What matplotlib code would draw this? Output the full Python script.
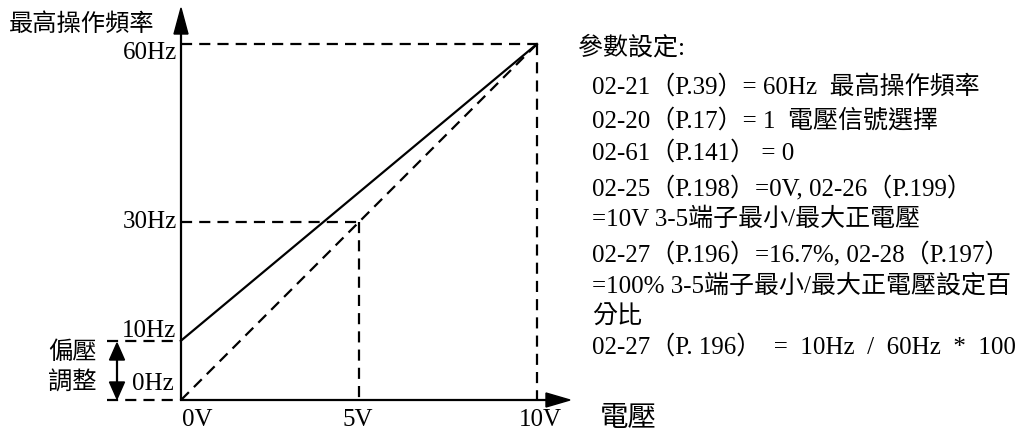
import matplotlib
matplotlib.use("Agg")
import matplotlib.pyplot as plt
from matplotlib.patches import Polygon

FONT = ['Liberation Serif', 'Noto Sans CJK TC']
plt.rcParams['font.family'] = FONT

# data
volt = [0, 10]
freq_bias = [10, 60]      # solid line with bias
freq_nobias = [0, 60]     # dashed line without bias
y_ticks = [60, 30, 10, 0]
y_labels = ['60Hz', '30Hz', '10Hz', '0Hz']
x_ticks = [0, 5, 10]
x_labels = ['0V', '5V', '10V']
y_title = '最高操作頻率'
x_title = '電壓'
bias_label = ['偏壓', '調整']
notes_title = '參數設定:'
notes = ['02-21（P.39）= 60Hz  最高操作頻率',
         '02-20（P.17）= 1  電壓信號選擇',
         '02-61（P.141） = 0',
         '02-25（P.198）=0V, 02-26（P.199）',
         '=10V 3-5端子最小/最大正電壓',
         '02-27（P.196）=16.7%, 02-28（P.197）',
         '=100% 3-5端子最小/最大正電壓設定百',
         '分比',
         '02-27（P. 196）  =  10Hz  /  60Hz  *  100']

W, H = 1023, 434
fig = plt.figure(figsize=(W / 100, H / 100), dpi=100)
ax = fig.add_axes([0, 0, 1, 1])
ax.set_axis_off()

# pixel mapping: 0V->181px, 10V->537px ; 0Hz->400px, 60Hz->44px
sx = (537 - 181) / 10.0
sy = (400 - 44) / 60.0
ax.set_xlim(-181 / sx, (W - 181) / sx)
ax.set_ylim((400 - H) / sy, 400 / sy)

def px(xp):
    return (xp - 181) / sx

def py(yp):
    return (400 - yp) / sy

lw = 1.6
dash = (0, (5, 3.2))
# axes lines
ax.plot([0, 0], [0, py(32)], color='black', lw=lw, solid_capstyle='butt')
ax.plot([0, px(548)], [0, 0], color='black', lw=lw, solid_capstyle='butt')
# arrow heads
ax.add_patch(Polygon([[px(174), py(34)], [px(188), py(34)], [px(181), py(8)]],
                     closed=True, color='black'))
ax.add_patch(Polygon([[px(546), py(393)], [px(546), py(407)], [px(570), py(400)]],
                     closed=True, color='black'))

# lines
ax.plot(volt, freq_bias, color='black', lw=lw)
ax.plot(volt, freq_nobias, color='black', lw=lw, linestyle=dash)

# guides
ax.plot([0, 10], [60, 60], color='black', lw=lw, linestyle=dash)
ax.plot([10, 10], [60, 0], color='black', lw=lw, linestyle=dash)
ax.plot([0, 5], [30, 30], color='black', lw=lw, linestyle=dash)
ax.plot([5, 5], [30, 0], color='black', lw=lw, linestyle=dash)
ax.plot([px(107), 0], [10, 10], color='black', lw=lw, linestyle=dash)
ax.plot([px(107), 0], [0, 0], color='black', lw=lw, linestyle=dash)

# bias double arrow
ax.plot([px(117), px(117)], [py(358), py(384)], color='black', lw=lw)
ax.add_patch(Polygon([[px(109.5), py(360)], [px(124.5), py(360)], [px(117), py(343)]],
                     closed=True, color='black'))
ax.add_patch(Polygon([[px(109.5), py(382)], [px(124.5), py(382)], [px(117), py(399)]],
                     closed=True, color='black'))

fs = 18
# y tick labels
y_label_pos = {60: (177, 53), 30: (177, 222), 10: (176, 331), 0: (174, 384)}
for v, lab in zip(y_ticks, y_labels):
    xp, yp = y_label_pos[v]
    ax.text(px(xp), py(yp), lab, ha='right', va='center', fontsize=fs)
# x tick labels
x_label_px = {0: 197, 5: 358, 10: 540}
for v, lab in zip(x_ticks, x_labels):
    ax.text(px(x_label_px[v]), py(420), lab, ha='center', va='center', fontsize=fs)
ax.text(px(628), py(419), x_title, ha='center', va='center', fontsize=20.5)
ax.text(px(9), py(25), y_title, ha='left', va='center', fontsize=17.5)
ax.text(px(72), py(353), bias_label[0], ha='center', va='center', fontsize=17.5)
ax.text(px(72), py(383), bias_label[1], ha='center', va='center', fontsize=17.5)

# notes
ax.text(px(578), py(48), notes_title, ha='left', va='center', fontsize=fs)
note_y_px = [87, 121, 153, 188, 219, 254, 286, 317, 347]
for t, yp in zip(notes, note_y_px):
    ax.text(px(592), py(yp), t, ha='left', va='center', fontsize=fs)

fig.savefig('out.png', dpi=100)
